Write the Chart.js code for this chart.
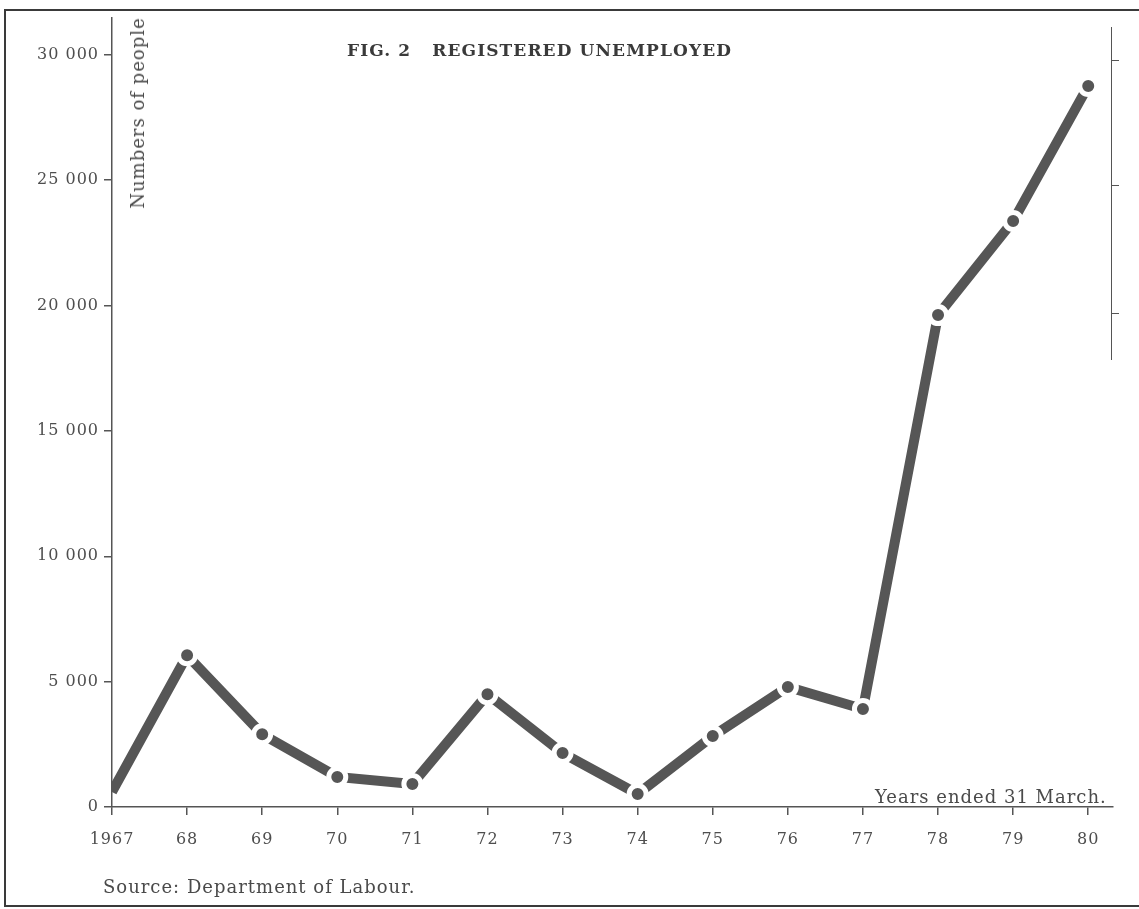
<!DOCTYPE html>
<html lang="en">
<head>
<meta charset="UTF-8">
<title>Fig. 2 Registered unemployed</title>
<script src="https://cdn.jsdelivr.net/npm/chart.js"></script>
<style>
  body { margin: 0; background: #fff; }
  #wrap { position: relative; width: 1139px; height: 909px; overflow: hidden; background: #fff; }
  #frame { position: absolute; left: 4px; top: 9px; width: 1150px; height: 894px;
           border: 2px solid #3a3a3a; border-right: none; }
  canvas { position: absolute; left: 0; top: 0; }
  .lbl { position: absolute; font-family: 'DejaVu Serif', serif; font-size: 18px; color: #4a4a4a;
         letter-spacing: 1px; line-height: 20px; white-space: nowrap; }
  #title { font-weight: bold; font-size: 17px; color: #3a3a3a;
           letter-spacing: 1.1px; left: 347px; top: 40px; }
  #ylab { left: 138px; top: 113px; transform: translate(-50%, -50%) rotate(-90deg); }
  #xlab { left: 875px; top: 787px; }
  #src { left: 103px; top: 877px; }
  /* bleed-through axis from the facing page */
  #ghost { position: absolute; left: 1111px; top: 27px; height: 333px; border-left: 1.5px solid #555; }
  .gt { position: absolute; left: 1111px; width: 8px; border-top: 1.5px solid #555; }
</style>
</head>
<body>
<div id="wrap">
  <div id="frame"></div>
  <div id="ghost"></div>
  <div class="gt" style="top:60px"></div>
  <div class="gt" style="top:185px"></div>
  <div class="gt" style="top:313px"></div>
  <canvas id="myChart" width="1139" height="909"></canvas>
  <div class="lbl" id="title">FIG. 2&nbsp;&nbsp;&nbsp;REGISTERED&nbsp;UNEMPLOYED</div>
  <div class="lbl" id="ylab">Numbers of people</div>
  <div class="lbl" id="xlab">Years ended 31 March.</div>
  <div class="lbl" id="src">Source: Department of Labour.</div>
</div>

<script>
// years ended 31 March
const years = [1967, 1968, 1969, 1970, 1971, 1972, 1973, 1974, 1975, 1976, 1977, 1978, 1979, 1980];
// registered unemployed
const unemployed = [600, 6050, 2900, 1200, 920, 4500, 2150, 520, 2830, 4790, 3910, 19620, 23370, 28760];
// y axis tick values
const yTicks = [0, 5000, 10000, 15000, 20000, 25000, 30000];

const ink = '#565656';

// letter spacing for the canvas text, to match the print
const spacing = {
    id: 'spacing',
    beforeUpdate(chart) { chart.ctx.letterSpacing = '1px'; },
    beforeDraw(chart) { chart.ctx.letterSpacing = '1px'; }
};

Chart.defaults.font.family = "'DejaVu Serif', serif";
Chart.defaults.font.size = 16;
Chart.defaults.color = '#4e4e4e';

const ctx = document.getElementById('myChart').getContext('2d');
const myChart = new Chart(ctx, {
    type: 'line',
    data: {
        datasets: [{
            data: years.map((y, i) => ({ x: y, y: unemployed[i] })),
            borderColor: ink,
            borderWidth: 10,
            borderCapStyle: 'butt',
            borderJoinStyle: 'miter',
            tension: 0,
            fill: false,
            clip: { left: 0, top: 20, right: 20, bottom: 0 },
            pointRadius: c => c.dataIndex === 0 ? 0 : 8.5,
            pointBorderWidth: c => c.dataIndex === 0 ? 0 : 5,
            pointBackgroundColor: ink,
            pointBorderColor: '#fff',
        }],
    },
    options: {
        responsive: false,
        animation: false,
        plugins: { legend: { display: false }, tooltip: { enabled: false } },
        layout: { padding: { top: 18, right: 26, bottom: 42, left: 0 } },
        scales: {
            x: {
                type: 'linear',
                min: 1967,
                max: 1980.33,
                afterFit: s => { s.height = 60; },
                afterBuildTicks: s => { s.ticks = years.map(v => ({ value: v })); },
                border: { display: true, color: '#555', width: 1.5 },
                grid: { display: true, drawOnChartArea: false, drawTicks: true, tickLength: 8, color: '#555', lineWidth: 1.5 },
                ticks: {
                    autoSkip: false,
                    maxRotation: 0,
                    padding: 15,
                    callback: v => v === 1967 ? '1967' : String(v).slice(2),
                },
            },
            y: {
                type: 'linear',
                min: 0,
                max: 31470,
                afterFit: s => { s.width = 112; },
                afterBuildTicks: s => { s.ticks = yTicks.map(v => ({ value: v })); },
                border: { display: true, color: '#555', width: 1.5 },
                grid: { display: true, drawOnChartArea: false, drawTicks: true, tickLength: 8, color: '#555', lineWidth: 1.5 },
                ticks: {
                    autoSkip: false,
                    padding: 5,
                    callback: v => v === 0 ? '0' : (v / 1000) + ' 000',
                },
            },
        },
    },
    plugins: [spacing],
});
</script>
</body>
</html>
